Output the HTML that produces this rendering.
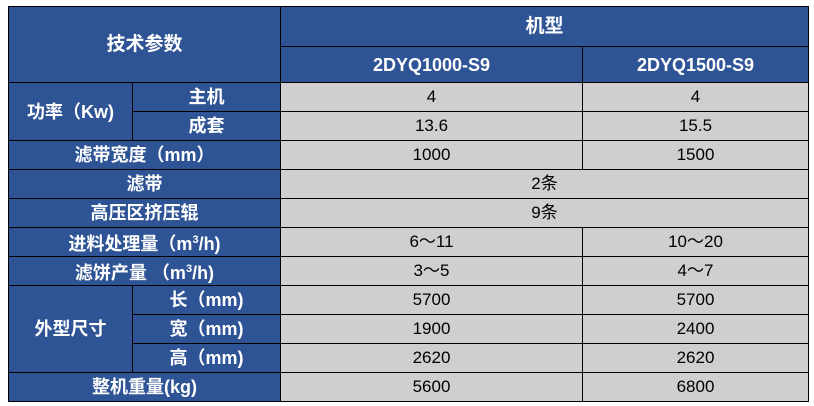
<!DOCTYPE html>
<html><head><meta charset="utf-8"><style>
body{margin:0;background:#fff;width:814px;height:406px;overflow:hidden}
table{position:absolute;left:8px;top:6px;border-collapse:collapse;table-layout:fixed;font-family:"Liberation Sans","Noto Sans CJK SC",sans-serif;font-size:17px}
td{border:1px solid #000;text-align:center;padding:0;height:28px;line-height:20px}
.h{background:#2f5496;color:#fff;font-weight:bold;font-size:18px}
.g{background:#d0cece;color:#000}
</style></head><body>
<table>
<colgroup><col style="width:124px"><col style="width:148px"><col style="width:302px"><col style="width:226px"></colgroup>
<tr><td class="h" colspan="2" rowspan="2" style="font-size:19px">技术参数</td><td class="h" colspan="2" style="height:39px;font-size:19px">机型</td></tr>
<tr><td class="h" style="height:35px">2DYQ1000-S9</td><td class="h">2DYQ1500-S9</td></tr>
<tr><td class="h" rowspan="2">功率（Kw)</td><td class="h">主机</td><td class="g">4</td><td class="g">4</td></tr>
<tr><td class="h">成套</td><td class="g">13.6</td><td class="g">15.5</td></tr>
<tr><td class="h" colspan="2">滤带宽度（mm）</td><td class="g">1000</td><td class="g">1500</td></tr>
<tr><td class="h" colspan="2">滤带</td><td class="g" colspan="2">2条</td></tr>
<tr><td class="h" colspan="2">高压区挤压辊</td><td class="g" colspan="2">9条</td></tr>
<tr><td class="h" colspan="2">进料处理量（m<sup style="font-size:11px">3</sup>/h)</td><td class="g">6～11</td><td class="g">10～20</td></tr>
<tr><td class="h" colspan="2">滤饼产量 （m<sup style="font-size:11px">3</sup>/h)</td><td class="g">3～5</td><td class="g">4～7</td></tr>
<tr><td class="h" rowspan="3">外型尺寸</td><td class="h">长（mm)</td><td class="g">5700</td><td class="g">5700</td></tr>
<tr><td class="h">宽（mm)</td><td class="g">1900</td><td class="g">2400</td></tr>
<tr><td class="h">高（mm)</td><td class="g">2620</td><td class="g">2620</td></tr>
<tr><td class="h" colspan="2" style="height:24px">整机重量(kg)</td><td class="g">5600</td><td class="g">6800</td></tr>
</table>
</body></html>
